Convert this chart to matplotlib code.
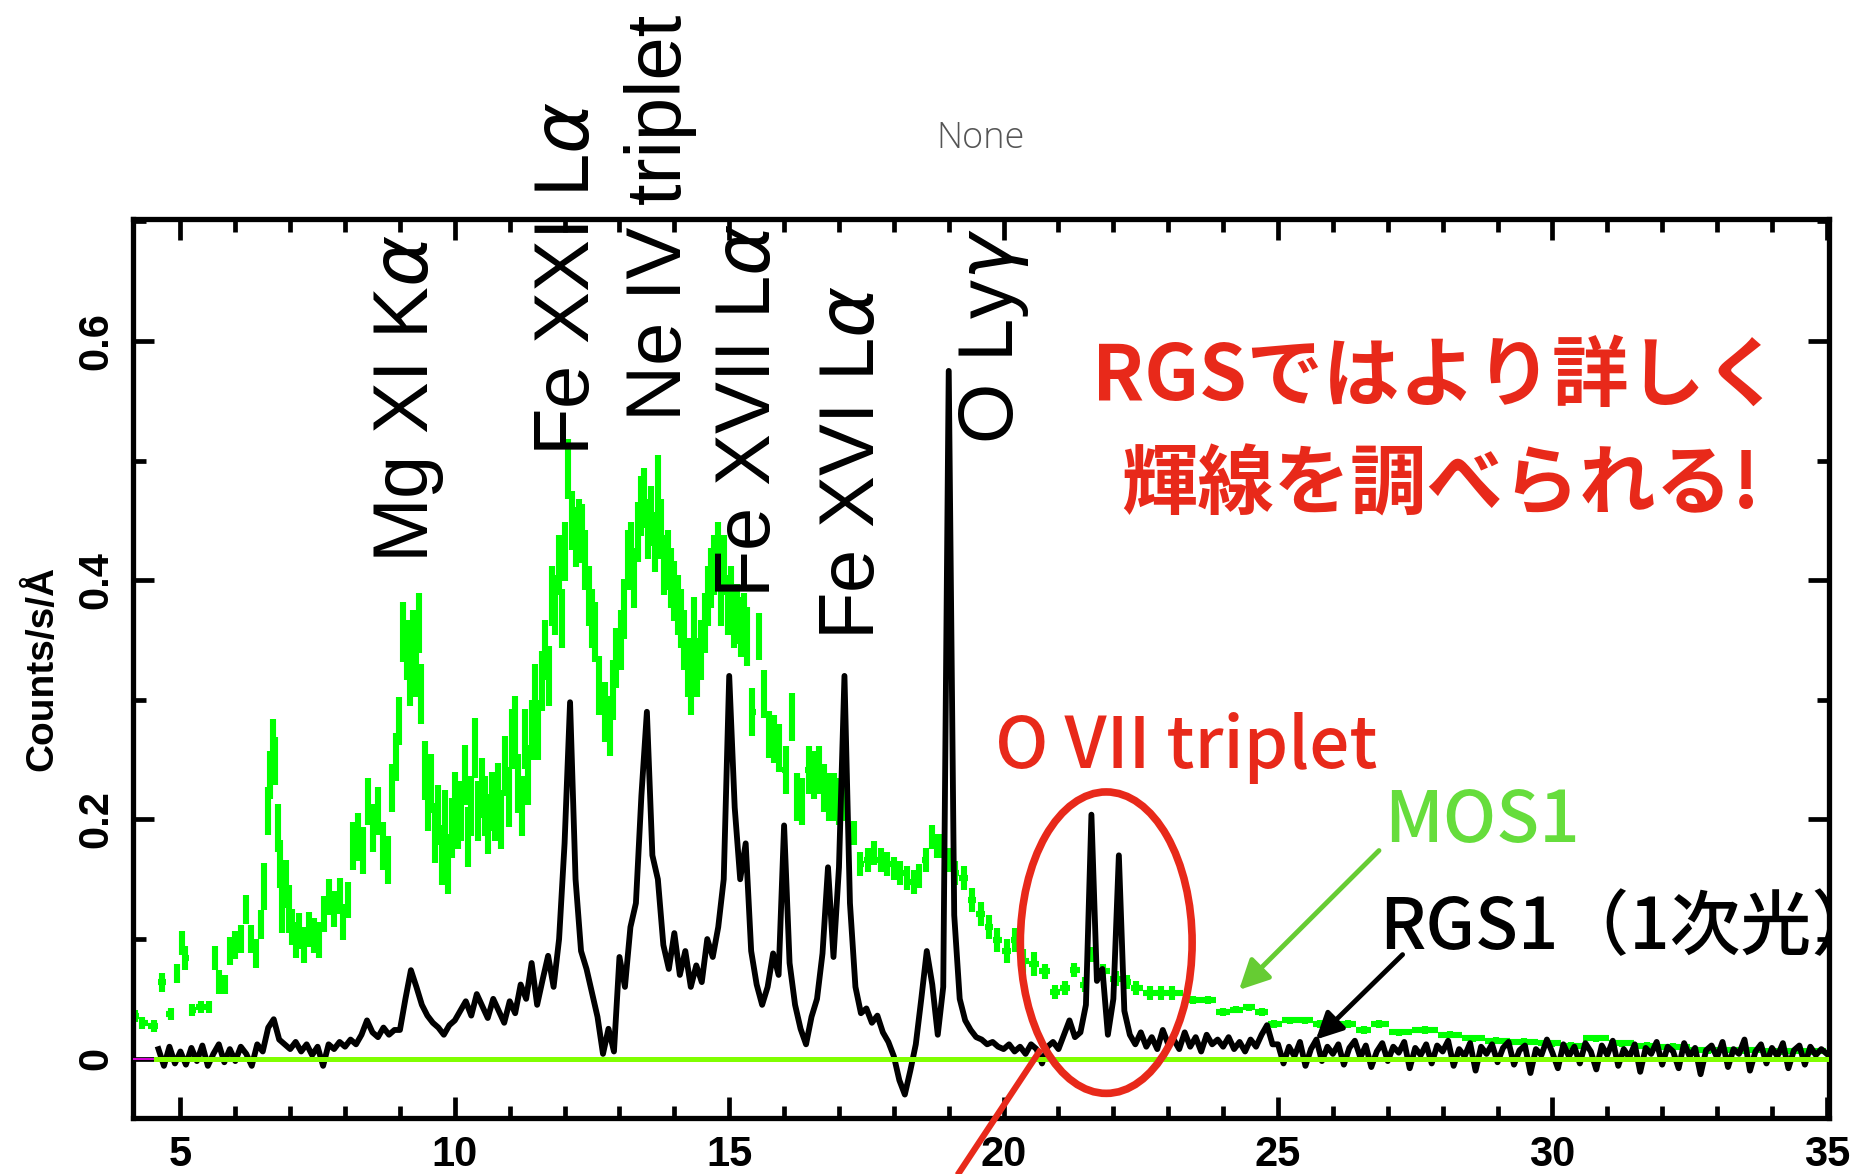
import numpy as np
import matplotlib
matplotlib.use("Agg")
import matplotlib.pyplot as plt
from matplotlib.patches import Ellipse

# ---------------- data ----------------
# RGS1 (1st order) spectrum, 0.1 A bins from 4.6 to 35.0 A  (counts/s/A)
rgs_start, rgs_stop, rgs_step = 4.6, 35.0, 0.1
rgs_rate = [
    0.008, -0.006, 0.010, -0.004,
    0.006, -0.005, 0.009, -0.002, 0.011, -0.006, 0.004, 0.012, -0.003, 0.008,
    -0.002, 0.010, 0.004, -0.006, 0.012, 0.006, 0.026, 0.033, 0.016, 0.012,
    0.008, 0.014, 0.006, 0.012, 0.003, 0.010, -0.006, 0.012, 0.008, 0.014,
    0.010, 0.016, 0.012, 0.020, 0.032, 0.022, 0.018, 0.026, 0.020, 0.024,
    0.024, 0.050, 0.074, 0.060, 0.045, 0.036, 0.030, 0.026, 0.020, 0.028,
    0.032, 0.040, 0.048, 0.036, 0.054, 0.044, 0.034, 0.050, 0.040, 0.030,
    0.048, 0.038, 0.062, 0.050, 0.080, 0.045, 0.066, 0.086, 0.060, 0.100,
    0.180, 0.298, 0.150, 0.090, 0.075, 0.055, 0.035, 0.004, 0.025, 0.006,
    0.085, 0.060, 0.110, 0.130, 0.220, 0.290, 0.170, 0.150, 0.095, 0.075,
    0.105, 0.070, 0.090, 0.060, 0.078, 0.064, 0.100, 0.085, 0.110, 0.150,
    0.320, 0.210, 0.150, 0.180, 0.090, 0.062, 0.045, 0.060, 0.088, 0.070,
    0.195, 0.080, 0.045, 0.025, 0.012, 0.035, 0.050, 0.088, 0.160, 0.085,
    0.160, 0.320, 0.130, 0.060, 0.038, 0.042, 0.030, 0.036, 0.022, 0.014,
    0.002, -0.018, -0.030, -0.010, 0.012, 0.050, 0.090, 0.062, 0.020, 0.060,
    0.575, 0.120, 0.050, 0.032, 0.024, 0.018, 0.016, 0.012, 0.014, 0.010,
    0.008, 0.012, 0.006, 0.010, 0.004, 0.012, 0.008, -0.004, 0.010, 0.014,
    0.008, 0.020, 0.032, 0.018, 0.022, 0.045, 0.204, 0.065, 0.075, 0.020,
    0.050, 0.170, 0.040, 0.020, 0.012, 0.022, 0.010, 0.018, 0.008, 0.024,
    0.012, 0.016, 0.008, 0.022, 0.010, 0.018, 0.006, 0.020, 0.012, 0.016,
    0.010, 0.018, 0.008, 0.014, 0.006, 0.016, 0.010, 0.020, 0.028, 0.012,
    0.012, -0.004, 0.010, 0.002, 0.014, -0.006, 0.008, 0.016, -0.002, 0.010,
    0.004, 0.012, -0.005, 0.009, 0.015, 0.001, 0.011, -0.007, 0.006, 0.013,
    -0.002, 0.010, 0.005, 0.014, -0.008, 0.009, 0.003, 0.012, -0.004, 0.011,
    0.006, 0.015, -0.006, 0.008, 0.002, 0.013, -0.010, 0.010, 0.004, 0.012,
    -0.003, 0.009, 0.014, -0.005, 0.007, 0.011, -0.012, 0.008, 0.003, 0.016,
    0.005, -0.008, 0.012, 0.002, 0.010, -0.004, 0.013, 0.006, -0.009, 0.011,
    0.003, 0.015, -0.006, 0.008, 0.001, 0.012, -0.011, 0.009, 0.004, 0.014,
    -0.005, 0.010, 0.006, -0.008, 0.013, 0.002, 0.009, -0.013, 0.007, 0.011,
    0.001, 0.014, -0.007, 0.008, 0.004, 0.016, -0.010, 0.006, 0.012, -0.004,
    0.009, 0.002, 0.013, -0.008, 0.007, 0.011, -0.005, 0.010, 0.003, 0.008,
    0.004,
]

# MOS1 spectrum: bin centres (A), rate (counts/s/A), 1-sigma error
mos_wave = [
    4.18, 4.30, 4.51, 4.66, 4.82, 4.94, 5.03, 5.09, 5.21, 5.37,
    5.52, 5.63, 5.71, 5.82, 5.91, 6.00, 6.10, 6.19, 6.28, 6.37,
    6.46, 6.52, 6.59, 6.63, 6.68, 6.73, 6.77, 6.81, 6.86, 6.92,
    6.98, 7.04, 7.10, 7.16, 7.26, 7.35, 7.44, 7.53, 7.62, 7.71,
    7.80, 7.90, 7.96, 8.05, 8.14, 8.23, 8.32, 8.41, 8.51, 8.60,
    8.69, 8.78, 8.86, 8.93, 8.99, 9.05, 9.12, 9.18, 9.24, 9.30,
    9.35, 9.39, 9.45, 9.51, 9.57, 9.63, 9.70, 9.76, 9.82, 9.88,
    9.94, 10.00, 10.06, 10.12, 10.18, 10.24, 10.30, 10.37, 10.43, 10.49,
    10.55, 10.61, 10.67, 10.73, 10.79, 10.85, 10.91, 10.98, 11.04, 11.10,
    11.16, 11.22, 11.28, 11.34, 11.40, 11.46, 11.52, 11.59, 11.65, 11.71,
    11.77, 11.83, 11.89, 11.95, 12.01, 12.07, 12.13, 12.20, 12.26, 12.32,
    12.38, 12.44, 12.50, 12.56, 12.62,
    12.73, 12.82, 12.88, 12.94, 13.03, 13.09, 13.15, 13.21, 13.27, 13.33,
    13.39, 13.45, 13.52, 13.58, 13.64, 13.70, 13.76, 13.82, 13.88, 13.94,
    14.00, 14.06, 14.12, 14.18, 14.24, 14.30, 14.36, 14.42, 14.48, 14.55,
    14.61, 14.67, 14.73, 14.79, 14.85, 14.91, 14.97, 15.03, 15.09, 15.15,
    15.21, 15.27, 15.33, 15.42, 15.55, 15.64, 15.73, 15.82, 15.91, 16.03,
    16.15, 16.24, 16.33, 16.45, 16.55, 16.64, 16.73, 16.82, 16.91, 17.00,
    17.12, 17.27, 17.39, 17.52, 17.64, 17.76, 17.88, 18.00, 18.12, 18.24,
    18.36, 18.45, 18.58, 18.70, 18.79, 18.88, 19.00, 19.12, 19.27, 19.42,
    19.58, 19.73, 19.88, 20.06, 20.21, 20.36, 20.55,
    20.75, 20.93, 21.12, 21.29, 21.49, 21.63, 21.82, 22.05, 22.24, 22.42,
    22.66, 22.87, 23.07, 23.45, 23.73, 24.00, 24.24, 24.47, 24.70, 24.93,
    25.21, 25.49, 25.77, 26.05, 26.28, 26.56, 26.84, 27.21, 27.68, 28.14,
    28.56, 28.98, 29.49, 30.00, 30.33, 30.80, 31.26, 31.73, 32.19, 32.84,
    33.49, 34.14, 34.70,
]
mos_rate = [
    0.036, 0.030, 0.027, 0.064, 0.037, 0.071, 0.097, 0.084, 0.041, 0.043,
    0.043, 0.084, 0.064, 0.062, 0.090, 0.095, 0.100, 0.125, 0.100, 0.088,
    0.112, 0.144, 0.207, 0.237, 0.264, 0.249, 0.193, 0.163, 0.125, 0.146,
    0.125, 0.110, 0.099, 0.107, 0.095, 0.108, 0.103, 0.099, 0.121, 0.135,
    0.125, 0.136, 0.114, 0.133, 0.178, 0.185, 0.174, 0.215, 0.193, 0.207,
    0.178, 0.166, 0.226, 0.252, 0.282, 0.357, 0.342, 0.320, 0.350, 0.327,
    0.364, 0.305, 0.241, 0.215, 0.230, 0.189, 0.204, 0.170, 0.200, 0.163,
    0.193, 0.215, 0.200, 0.207, 0.237, 0.185, 0.211, 0.260, 0.207, 0.226,
    0.211, 0.196, 0.215, 0.207, 0.222, 0.200, 0.245, 0.219, 0.267, 0.278,
    0.230, 0.211, 0.267, 0.237, 0.275, 0.305, 0.275, 0.316, 0.342, 0.320,
    0.387, 0.379, 0.413, 0.368, 0.424, 0.493, 0.450, 0.436, 0.443, 0.439,
    0.417, 0.387, 0.368, 0.357, 0.312,
    0.290, 0.278, 0.308, 0.335, 0.350, 0.376, 0.417, 0.424, 0.402, 0.440,
    0.462, 0.469, 0.443, 0.454, 0.432, 0.480, 0.443, 0.413, 0.417, 0.402,
    0.391, 0.379, 0.368, 0.350, 0.327, 0.312, 0.361, 0.327, 0.342, 0.364,
    0.387, 0.402, 0.413, 0.424, 0.387, 0.413, 0.379, 0.387, 0.368, 0.372,
    0.361, 0.364, 0.353, 0.290, 0.353, 0.305, 0.271, 0.267, 0.260, 0.241,
    0.286, 0.219, 0.215, 0.241, 0.237, 0.241, 0.226, 0.219, 0.219, 0.215,
    0.219, 0.189, 0.163, 0.166, 0.172, 0.166, 0.163, 0.159, 0.155, 0.151,
    0.148, 0.153, 0.166, 0.185, 0.178, 0.178, 0.166, 0.155, 0.151, 0.133,
    0.121, 0.110, 0.099, 0.090, 0.099, 0.082, 0.079,
    0.073, 0.056, 0.059, 0.074, 0.062, 0.087, 0.073, 0.067, 0.064, 0.059,
    0.055, 0.055, 0.055, 0.049, 0.049, 0.039, 0.041, 0.043, 0.039, 0.029,
    0.032, 0.032, 0.029, 0.029, 0.029, 0.024, 0.029, 0.022, 0.024, 0.020,
    0.017, 0.015, 0.014, 0.013, 0.011, 0.017, 0.013, 0.011, 0.010, 0.007,
    0.007, 0.006, 0.006,
]
mos_err = [
    0.005, 0.005, 0.005, 0.008, 0.005, 0.008, 0.010, 0.010, 0.005, 0.005,
    0.005, 0.010, 0.010, 0.008, 0.012, 0.012, 0.012, 0.012, 0.012, 0.012,
    0.012, 0.020, 0.020, 0.020, 0.020, 0.020, 0.020, 0.020, 0.020, 0.020,
    0.020, 0.015, 0.015, 0.015, 0.015, 0.015, 0.015, 0.015, 0.015, 0.015,
    0.015, 0.015, 0.015, 0.015, 0.020, 0.020, 0.020, 0.020, 0.020, 0.020,
    0.020, 0.020, 0.020, 0.020, 0.020, 0.025, 0.025, 0.025, 0.025, 0.025,
    0.025, 0.025, 0.025, 0.025, 0.025, 0.025, 0.025, 0.025, 0.025, 0.025,
    0.025, 0.025, 0.025, 0.025, 0.025, 0.025, 0.025, 0.025, 0.025, 0.025,
    0.025, 0.025, 0.025, 0.025, 0.025, 0.025, 0.025, 0.025, 0.025, 0.025,
    0.025, 0.025, 0.025, 0.025, 0.025, 0.025, 0.025, 0.025, 0.025, 0.025,
    0.025, 0.025, 0.025, 0.025, 0.025, 0.025, 0.025, 0.025, 0.025, 0.025,
    0.025, 0.025, 0.025, 0.025, 0.025,
    0.025, 0.025, 0.025, 0.025, 0.025, 0.025, 0.025, 0.025, 0.025, 0.025,
    0.025, 0.025, 0.025, 0.025, 0.025, 0.025, 0.025, 0.025, 0.025, 0.025,
    0.025, 0.025, 0.025, 0.025, 0.025, 0.025, 0.025, 0.025, 0.025, 0.025,
    0.025, 0.025, 0.025, 0.025, 0.025, 0.025, 0.025, 0.025, 0.025, 0.025,
    0.025, 0.025, 0.025, 0.020, 0.020, 0.020, 0.020, 0.020, 0.020, 0.020,
    0.020, 0.020, 0.020, 0.020, 0.020, 0.020, 0.020, 0.020, 0.020, 0.020,
    0.020, 0.010, 0.010, 0.010, 0.010, 0.010, 0.010, 0.010, 0.010, 0.010,
    0.010, 0.010, 0.010, 0.010, 0.010, 0.010, 0.010, 0.010, 0.010, 0.010,
    0.010, 0.010, 0.010, 0.010, 0.010, 0.010, 0.010,
    0.006, 0.006, 0.006, 0.006, 0.006, 0.006, 0.006, 0.006, 0.006, 0.006,
    0.006, 0.006, 0.006, 0.003, 0.003, 0.003, 0.003, 0.003, 0.003, 0.003,
    0.003, 0.003, 0.003, 0.003, 0.003, 0.003, 0.003, 0.003, 0.003, 0.003,
    0.003, 0.003, 0.003, 0.003, 0.003, 0.003, 0.003, 0.003, 0.003, 0.003,
    0.003, 0.003, 0.003,
]

x_ticks = [5, 10, 15, 20, 25, 30, 35]
x_ticklabels = ["5", "10", "15", "20", "25", "30", "35"]
y_ticks = [0, 0.2, 0.4, 0.6]
y_ticklabels = ["0", "0.2", "0.4", "0.6"]

line_ids = ["Mg XI K$\\alpha$", "Fe XXI L$\\alpha$", "Ne IV triplet",
            "Fe XVII L$\\alpha$", "Fe XVI L$\\alpha$", "O Ly$\\gamma$"]
line_id_wave = [9.17, 12.08, 13.75, 15.37, 17.27, 19.82]
line_id_base = [0.414, 0.504, 0.533, 0.385, 0.350, 0.514]

# ---------------- style ----------------
plt.rcParams["mathtext.fontset"] = "dejavusans"

TICK_FONT = ["Liberation Sans", "DejaVu Sans"]
CJK = ["Noto Sans CJK JP", "DejaVu Sans"]
RED = "#e8291a"
LIME = "#80ff00"
MOSG = "#00ff00"

W, H = 1859, 1174
fig = plt.figure(figsize=(W / 100, H / 100), dpi=100)
ax = fig.add_axes([133 / W, 1 - 1118 / H, (1829 - 133) / W, (1118 - 219) / H])

# MOS1 error-bar crosses (x half-widths from neighbouring bin centres)
mw = np.array(mos_wave)
mid = (mw[1:] + mw[:-1]) / 2
left = np.concatenate([[mw[0] - (mw[1] - mw[0]) / 2], mid])
right = np.concatenate([mid, [mw[-1] + (mw[-1] - mw[-2]) / 2]])
ax.errorbar(mw, mos_rate, yerr=mos_err, xerr=[mw - left, right - mw],
            fmt="none", ecolor=MOSG, elinewidth=4.4, capsize=0, zorder=2)

# RGS1
rgs_wave = np.round(np.arange(rgs_start, rgs_stop + rgs_step / 2, rgs_step), 2)
ax.plot(rgs_wave, rgs_rate, color="black", lw=4.2, zorder=3,
        solid_joinstyle="round")

# zero lines
ax.plot([4.14, 4.55], [0, 0], color="#ff00ff", lw=1.2, zorder=4)
ax.plot([4.55, 35.0], [0, 0], color=LIME, lw=3.6, zorder=4)

ax.set_xlim(4.136, 35.04)
ax.set_ylim(-0.0496, 0.702)

ax.set_xticks(x_ticks)
ax.set_xticklabels(x_ticklabels)
ax.set_xticks(np.arange(5, 35, 1), minor=True)
ax.set_yticks(y_ticks)
ax.set_yticklabels(y_ticklabels)
ax.set_yticks([0.1, 0.3, 0.5, 0.7], minor=True)

for s in ax.spines.values():
    s.set_linewidth(3.8)
ax.tick_params(which="both", direction="in", top=True, right=True,
               width=3.4, color="black", zorder=6)
ax.tick_params(which="major", length=15)
ax.tick_params(which="minor", length=9)
ax.tick_params(axis="x", which="major", pad=12)
ax.tick_params(axis="y", which="major", pad=12)
for lab in ax.get_xticklabels():
    lab.set_fontfamily(TICK_FONT)
    lab.set_fontweight("bold")
    lab.set_fontsize(30)
for lab in ax.get_yticklabels():
    lab.set_fontfamily(TICK_FONT)
    lab.set_fontweight("bold")
    lab.set_fontsize(30)
    lab.set_rotation(90)
    lab.set_va("center")

ax.set_ylabel("Counts/s/Å", fontfamily=TICK_FONT, fontweight="bold",
              fontsize=28)
ax.yaxis.set_label_coords(-0.043, 0.50)

# title
ax.text(0.5, 1.079, "None", transform=ax.transAxes, ha="center",
        va="baseline", fontsize=26, color="#555555",
        fontfamily=["Open Sans", "DejaVu Sans"], fontweight="light")

# line identifications
for lab, xw, yb in zip(line_ids, line_id_wave, line_id_base):
    ax.text(xw, yb, lab, rotation=90, ha="center", va="bottom",
            fontsize=56, fontfamily=["Liberation Sans"], color="black",
            zorder=7, clip_on=False)

# annotations
ax.text(27.89, 0.570, "RGSではより詳しく", ha="center", va="center",
        fontsize=55, fontfamily=CJK, fontweight="bold", color=RED, zorder=8)
ax.text(27.96, 0.479, "輝線を調べられる!", ha="center", va="center",
        fontsize=55, fontfamily=CJK, fontweight="bold", color=RED, zorder=8)
ax.text(23.32, 0.243, "O VII triplet", ha="center", va="baseline",
        fontsize=51, fontfamily=CJK, fontweight="medium", color=RED, zorder=8)
ax.text(28.72, 0.181, "MOS1", ha="center", va="baseline",
        fontsize=51, fontfamily=CJK, fontweight="medium", color="#66dd3c",
        zorder=8)
ax.text(26.84, 0.092, "RGS1（1次光）", ha="left", va="baseline",
        fontsize=51, fontfamily=CJK, fontweight="medium", color="black",
        zorder=8, clip_on=True)

ax.annotate("", xy=(24.29, 0.0575), xytext=(26.84, 0.174),
            arrowprops=dict(arrowstyle="-|>", color="#66cc33", lw=3.5,
                            mutation_scale=45, shrinkA=0, shrinkB=0),
            zorder=8)
ax.annotate("", xy=(25.69, 0.016), xytext=(27.27, 0.087),
            arrowprops=dict(arrowstyle="-|>", color="black", lw=3.5,
                            mutation_scale=40, shrinkA=0, shrinkB=0),
            zorder=8)

ax.add_patch(Ellipse((21.87, 0.097), 3.13, 0.252, fill=False, ec=RED,
                     lw=5.5, zorder=8))
ax.plot([20.68, 18.89], [0.008, -0.116], color=RED, lw=4.5, zorder=8,
        clip_on=False, solid_capstyle="butt")

fig.savefig("out.png", dpi=100)
